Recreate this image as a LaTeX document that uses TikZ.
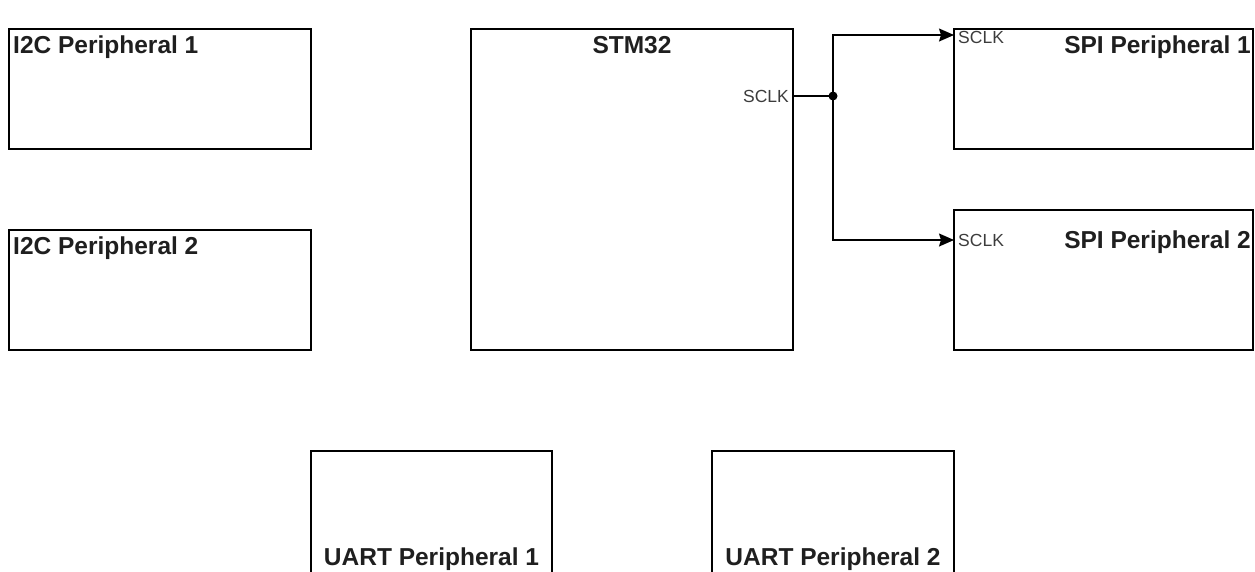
\documentclass[tikz,border=0pt]{standalone}
\usepackage{fontspec}
\setmainfont{Liberation Sans}
\usetikzlibrary{arrows.meta}
\definecolor{portgray}{HTML}{3C3C3C}

\begin{document}
\begin{tikzpicture}[x=1pt, y=-1pt, >={Stealth[length=15pt,width=13pt,inset=2pt]}]
        \tikzstyle{block} = [draw, line width=1.3pt, rectangle, inner sep=0pt]
        \tikzstyle{title} = [font=\fontsize{24.5}{29}\selectfont\bfseries, text=black!88, inner sep=0pt]
        \tikzstyle{port} = [font=\fontsize{17.5}{21}\selectfont, text=portgray, inner sep=0pt]
        \useasboundingbox (0,0) rectangle (1255,571);
                \begin{scope}
                        \path
                        node[block, minimum width=302pt, minimum height=120pt] (I2Cone) at (160,89) {}
                        node[block, minimum width=302pt, minimum height=120pt] (I2Ctwo) at (160,290) {}
                        node[block, minimum width=322pt, minimum height=321pt] (STM) at (632,189.5) {}
                        node[block, minimum width=299pt, minimum height=120pt] (SPIone) at (1103.5,89) {}
                        node[block, minimum width=299pt, minimum height=140pt] (SPItwo) at (1103.5,280) {}
                        node[block, minimum width=241pt, minimum height=128pt] (UARTone) at (431.5,515) {}
                        node[block, minimum width=242pt, minimum height=128pt] (UARTtwo) at (833,515) {}

                        % Titles
                        node[title, anchor=base west] (I2ConeT) at (13,53) {I2C Peripheral 1}
                        node[title, anchor=base west] (I2CtwoT) at (13,254) {I2C Peripheral 2}
                        node[title, anchor=base] (STMT) at (632,53) {STM32}
                        node[title, anchor=base east] (SPIoneT) at (1251,53) {SPI Peripheral 1}
                        node[title, anchor=base east] (SPItwoT) at (1251,248) {SPI Peripheral 2}
                        node[title, anchor=base] (UARToneT) at (431.5,565) {UART Peripheral 1}
                        node[title, anchor=base] (UARTtwoT) at (833,565) {UART Peripheral 2}

                        % Ports
                        node[port, anchor=base east] (STMsclk) at (789,102) {SCLK}
                        node[port, anchor=base west] (SPIonesclk) at (958,43) {SCLK}
                        node[port, anchor=base west] (SPItwosclk) at (958,246) {SCLK}
                        ;
                        \coordinate (STMout) at (793,96);
                        \coordinate (split) at (833,96);
                        \coordinate (SPIonein) at (954,35);
                        \coordinate (SPItwoin) at (954,240);

                        % Clock lines
                        \draw[line width=1.3pt] (STMout) -- (split);
                        \draw[line width=1.3pt, ->] (split) |- (SPIonein);
                        \draw[line width=1.3pt, ->] (split) |- (SPItwoin);
                        \fill (split) circle (4.5pt);
                \end{scope}
\end{tikzpicture}
\end{document}
